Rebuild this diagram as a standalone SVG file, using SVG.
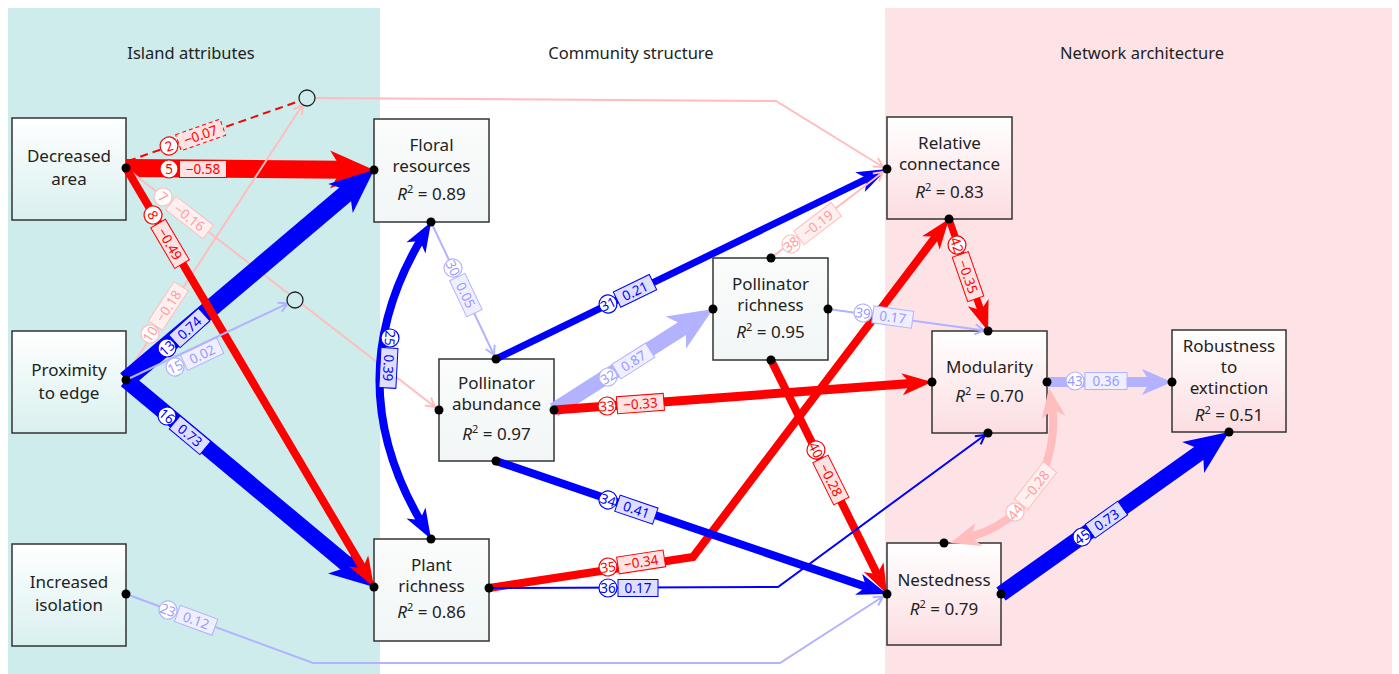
<svg xmlns="http://www.w3.org/2000/svg" width="1399" height="674" viewBox="0 0 1399 674">
<style>
text{font-family:"Noto Sans","DejaVu Sans",sans-serif}
.head{font-size:16.5px;fill:#222;text-anchor:middle}
.node text{font-size:17px;fill:#222;text-anchor:middle}
.node .sup{font-size:11px}
.box{stroke:#333;stroke-width:1.5}
.teal{fill:url(#gTeal)}
.grey{fill:url(#gGrey)}
.pink{fill:url(#gPink)}
.dot{fill:#000}
.latent{fill:#cdeceb;stroke:#222;stroke-width:1.3}
.con{fill:none;stroke-linejoin:miter}
.red{stroke:#ff0000}
.blue{stroke:#0000ff}
.fred{stroke:#ffbdbd}
.fblue{stroke:#b2b2ff}
.lab text{font-size:13.5px;text-anchor:middle;dominant-baseline:central}
.lab rect{stroke-width:1}
.lab circle{fill:#fff;stroke-width:1.2}
.lr circle,.lr rect{stroke:#ff0000}.lr rect{fill:#ffe3e3}.lr text{fill:#ff0000}
.lb circle,.lb rect{stroke:#0000ff}.lb rect{fill:#dedeff}.lb text{fill:#0000ff}
.lfr circle,.lfr rect{stroke:#ffbdbd}.lfr rect{fill:#fff0f0}.lfr text{fill:#ff9c9c}
.lfb circle,.lfb rect{stroke:#b2b2ff}.lfb rect{fill:#efefff}.lfb text{fill:#9a9aff}
</style>
<defs>
<linearGradient id="gTeal" x1="0" y1="0" x2="0" y2="1"><stop offset="0" stop-color="#ffffff"/><stop offset="1" stop-color="#d9f0ef"/></linearGradient>
<linearGradient id="gGrey" x1="0" y1="0" x2="0" y2="1"><stop offset="0" stop-color="#fbfcfc"/><stop offset="1" stop-color="#f2f6f6"/></linearGradient>
<linearGradient id="gPink" x1="0" y1="0" x2="0" y2="1"><stop offset="0" stop-color="#ffffff"/><stop offset="1" stop-color="#fcdde1"/></linearGradient>
<marker id="Lred" markerUnits="userSpaceOnUse" orient="auto-start-reverse" overflow="visible" markerWidth="1" markerHeight="1" refX="0" refY="0"><path d="M-12,-19 L32,0 L-12,19 L0,0 Z" fill="#ff0000"/></marker>
<marker id="Lblue" markerUnits="userSpaceOnUse" orient="auto-start-reverse" overflow="visible" markerWidth="1" markerHeight="1" refX="0" refY="0"><path d="M-12,-19 L32,0 L-12,19 L0,0 Z" fill="#0000ff"/></marker>
<marker id="Lfblue" markerUnits="userSpaceOnUse" orient="auto-start-reverse" overflow="visible" markerWidth="1" markerHeight="1" refX="0" refY="0"><path d="M-12,-19 L32,0 L-12,19 L0,0 Z" fill="#b2b2ff"/></marker>
<marker id="Mred" markerUnits="userSpaceOnUse" orient="auto-start-reverse" overflow="visible" markerWidth="1" markerHeight="1" refX="0" refY="0"><path d="M-8,-11 L22,0 L-8,11 L0,0 Z" fill="#ff0000"/></marker>
<marker id="Mblue" markerUnits="userSpaceOnUse" orient="auto-start-reverse" overflow="visible" markerWidth="1" markerHeight="1" refX="0" refY="0"><path d="M-8,-11 L22,0 L-8,11 L0,0 Z" fill="#0000ff"/></marker>
<marker id="Mfblue" markerUnits="userSpaceOnUse" orient="auto-start-reverse" overflow="visible" markerWidth="1" markerHeight="1" refX="0" refY="0"><path d="M-8,-13 L22,0 L-8,13 L0,0 Z" fill="#b2b2ff"/></marker>
<marker id="Mfred" markerUnits="userSpaceOnUse" orient="auto-start-reverse" overflow="visible" markerWidth="1" markerHeight="1" refX="0" refY="0"><path d="M-8,-12 L22,0 L-8,12 L0,0 Z" fill="#ffbdbd"/></marker>
<marker id="Ofred" markerUnits="userSpaceOnUse" orient="auto" overflow="visible" markerWidth="1" markerHeight="1" refX="0" refY="0"><path d="M-9,-5 L0,0 L-9,5" fill="none" stroke="#ffbdbd" stroke-width="2"/></marker>
<marker id="Ofblue" markerUnits="userSpaceOnUse" orient="auto" overflow="visible" markerWidth="1" markerHeight="1" refX="0" refY="0"><path d="M-9,-5 L0,0 L-9,5" fill="none" stroke="#b2b2ff" stroke-width="2"/></marker>
<marker id="Oblue" markerUnits="userSpaceOnUse" orient="auto" overflow="visible" markerWidth="1" markerHeight="1" refX="0" refY="0"><path d="M-9,-5 L0,0 L-9,5" fill="none" stroke="#0000ff" stroke-width="2"/></marker>
</defs>

<rect width="1399" height="674" fill="#ffffff"/>
<rect x="8" y="8" width="372" height="666" fill="#cdeceb"/>
<rect x="885" y="8" width="507" height="666" fill="#fde3e6"/>

<text class="head" x="191" y="59">Island attributes</text>
<text class="head" x="631" y="59">Community structure</text>
<text class="head" x="1142" y="59">Network architecture</text>

<g id="node-decreased-area" class="node">
<rect class="box teal" x="12" y="118" width="114" height="102"/>
<text x="69" y="162">Decreased</text><text x="69" y="185">area</text>
</g>
<g id="node-proximity-to-edge" class="node">
<rect class="box teal" x="12" y="331" width="114" height="102"/>
<text x="69" y="376">Proximity</text><text x="69" y="399">to edge</text>
</g>
<g id="node-increased-isolation" class="node">
<rect class="box teal" x="12" y="544" width="114" height="102"/>
<text x="69" y="588">Increased</text><text x="69" y="611">isolation</text>
</g>
<g id="node-floral-resources" class="node">
<rect class="box grey" x="374" y="119" width="115" height="103"/>
<text x="431.5" y="151">Floral</text><text x="431.5" y="172">resources</text>
<text x="431.5" y="200"><tspan font-style="italic">R</tspan><tspan class="sup" dy="-7">2</tspan><tspan dy="7"> = 0.89</tspan></text>
</g>
<g id="node-plant-richness" class="node">
<rect class="box grey" x="374" y="539" width="115" height="102"/>
<text x="431.5" y="571">Plant</text><text x="431.5" y="592">richness</text>
<text x="431.5" y="618"><tspan font-style="italic">R</tspan><tspan class="sup" dy="-7">2</tspan><tspan dy="7"> = 0.86</tspan></text>
</g>
<g id="node-pollinator-abundance" class="node">
<rect class="box grey" x="439" y="359" width="115" height="102"/>
<text x="496.5" y="389">Pollinator</text><text x="496.5" y="410">abundance</text>
<text x="496.5" y="440"><tspan font-style="italic">R</tspan><tspan class="sup" dy="-7">2</tspan><tspan dy="7"> = 0.97</tspan></text>
</g>
<g id="node-pollinator-richness" class="node">
<rect class="box grey" x="713" y="258" width="115" height="102"/>
<text x="770.5" y="290">Pollinator</text><text x="770.5" y="311">richness</text>
<text x="770.5" y="338"><tspan font-style="italic">R</tspan><tspan class="sup" dy="-7">2</tspan><tspan dy="7"> = 0.95</tspan></text>
</g>
<g id="node-relative-connectance" class="node">
<rect class="box pink" x="887" y="117" width="125" height="102"/>
<text x="949.5" y="149">Relative</text><text x="949.5" y="170">connectance</text>
<text x="949.5" y="198"><tspan font-style="italic">R</tspan><tspan class="sup" dy="-7">2</tspan><tspan dy="7"> = 0.83</tspan></text>
</g>
<g id="node-modularity" class="node">
<rect class="box pink" x="932" y="331" width="115" height="102"/>
<text x="989.5" y="373">Modularity</text>
<text x="989.5" y="402"><tspan font-style="italic">R</tspan><tspan class="sup" dy="-7">2</tspan><tspan dy="7"> = 0.70</tspan></text>
</g>
<g id="node-robustness" class="node">
<rect class="box pink" x="1172" y="330" width="114" height="102"/>
<text x="1229" y="352">Robustness</text><text x="1229" y="373">to</text><text x="1229" y="394">extinction</text>
<text x="1229" y="421"><tspan font-style="italic">R</tspan><tspan class="sup" dy="-7">2</tspan><tspan dy="7"> = 0.51</tspan></text>
</g>
<g id="node-nestedness" class="node">
<rect class="box pink" x="887" y="543" width="114" height="102"/>
<text x="944" y="586">Nestedness</text>
<text x="944" y="615"><tspan font-style="italic">R</tspan><tspan class="sup" dy="-7">2</tspan><tspan dy="7"> = 0.79</tspan></text>
</g>

<g id="connectors">
<path id="c2" class="con red" d="M128,161 L299.5,101" stroke-width="2" stroke-dasharray="8 5"/>
<path id="c5" class="con red" d="M126,168 L342,169.7" stroke-width="18" marker-end="url(#Lred)"/>
<path id="c7" class="con fred" d="M126,168 L435,407" stroke-width="2" marker-end="url(#Ofred)"/>
<path id="c10" class="con fred" d="M128,372 L302.7,104.7" stroke-width="2" marker-end="url(#Ofred)"/>
<path id="c13" class="con blue" d="M126,380 L349.6,190.7" stroke-width="18" marker-end="url(#Lblue)"/>
<path id="c16" class="con blue" d="M126,380 L349.4,566.5" stroke-width="16" marker-end="url(#Lblue)"/>
<path id="c8" class="con red" d="M126,168 L362.8,568.1" stroke-width="8" marker-end="url(#Mred)"/>
<path id="c15" class="con fblue" d="M126,380 L287.8,303.4" stroke-width="2" marker-end="url(#Ofblue)"/>
<path id="c23" class="con fblue" d="M126,594 L313,663 L780,663 L883,596.5" stroke-width="2" marker-end="url(#Ofblue)"/>
<path id="c25" class="con blue" d="M420,241 Q339,380 420,520" stroke-width="8" marker-start="url(#Mblue)" marker-end="url(#Mblue)"/>
<path id="c30" class="con fblue" d="M431,222 L494,355" stroke-width="2" marker-end="url(#Ofblue)"/>
<path id="c31" class="con blue" d="M496,359 L867.2,178.6" stroke-width="7" marker-end="url(#Mblue)"/>
<path id="c32" class="con fblue" d="M554,410 L686,326.2" stroke-width="15" marker-end="url(#Lfblue)"/>
<path id="c33" class="con red" d="M554,410 L910.1,383.6" stroke-width="9" marker-end="url(#Mred)"/>
<path id="c35" class="con red" d="M489,588 L693,557 L935.7,236.5" stroke-width="8" marker-end="url(#Mred)"/>
<path id="c34" class="con blue" d="M496,461 L866.2,586.9" stroke-width="8" marker-end="url(#Mblue)"/>
<path id="c38" class="con fred" d="M771,258 L883,172" stroke-width="2" marker-end="url(#Ofred)"/>
<path id="c39" class="con fblue" d="M828,309 L984,330.5" stroke-width="2" marker-end="url(#Ofblue)"/>
<path id="c40" class="con red" d="M771,360 L877.2,574.3" stroke-width="8" marker-end="url(#Mred)"/>
<path id="c36" class="con blue" d="M489,588 L778,587 L985,435" stroke-width="2" marker-end="url(#Oblue)"/>
<path id="c42" class="con red" d="M949,219 L980.8,310.2" stroke-width="7" marker-end="url(#Mred)"/>
<path id="c43" class="con fblue" d="M1047,382 L1150,382" stroke-width="10" marker-end="url(#Mfblue)"/>
<path id="c44" class="con fred" d="M1052.4,409.6 C1057,440 1045,515 971.3,536.7" stroke-width="8" marker-start="url(#Mfred)" marker-end="url(#Mfred)"/>
<path id="c45" class="con blue" d="M1001,594 L1202.9,450.5" stroke-width="16" marker-end="url(#Lblue)"/>
<path id="c-latent" class="con fred" d="M315,98 L776,101 L883,167" stroke-width="2" marker-end="url(#Ofred)"/>
</g>

<g id="latent-nodes">
<circle id="latent-1" class="latent" cx="307" cy="98" r="8"/>
<circle id="latent-2" class="latent" cx="295" cy="300" r="8"/>
</g>

<g id="labels">
<g class="lab lr" transform="translate(169,146) rotate(-19.3)"><circle r="9"/><text>2</text><rect x="10" y="-8.5" width="47" height="17" stroke-dasharray="4 3"/><text x="33.5">−0.07</text></g>
<g class="lab lr" transform="translate(169,169)"><circle r="9"/><text>5</text><rect x="10.5" y="-8.5" width="47" height="17"/><text x="34">−0.58</text></g>
<g class="lab lfr" transform="translate(163,197) rotate(37.7)"><circle r="9"/><text>7</text><rect x="10" y="-8.5" width="47" height="17"/><text x="33.5">−0.16</text></g>
<g class="lab lr" transform="translate(153,215) rotate(59.4)"><circle r="9"/><text>8</text><rect x="10" y="-8.5" width="47" height="17"/><text x="33.5">−0.49</text></g>
<g class="lab lfr" transform="translate(150,334) rotate(-56.8)"><circle r="9"/><text>10</text><rect x="10" y="-8.5" width="47" height="17"/><text x="33.5">−0.18</text></g>
<g class="lab lb" transform="translate(167,348) rotate(-42)"><circle r="9"/><text>13</text><rect x="10" y="-8.5" width="40" height="17"/><text x="30">0.74</text></g>
<g class="lab lfb" transform="translate(175,367) rotate(-25.3)"><circle r="9"/><text>15</text><rect x="10" y="-8.5" width="40" height="17"/><text x="30">0.02</text></g>
<g class="lab lb" transform="translate(167,416) rotate(39.9)"><circle r="9"/><text>16</text><rect x="10" y="-8.5" width="40" height="17"/><text x="30">0.73</text></g>
<g class="lab lfb" transform="translate(168,610) rotate(20.2)"><circle r="9"/><text>23</text><rect x="10" y="-8.5" width="40" height="17"/><text x="30">0.12</text></g>
<g class="lab lb" transform="translate(390,338) rotate(93)"><circle r="9"/><text>25</text><rect x="10" y="-8.5" width="40" height="17"/><text x="30">0.39</text></g>
<g class="lab lfb" transform="translate(453,268) rotate(64.6)"><circle r="9"/><text>30</text><rect x="10" y="-8.5" width="40" height="17"/><text x="30">0.05</text></g>
<g class="lab lb" transform="translate(608,304) rotate(-25.9)"><circle r="9"/><text>31</text><rect x="10" y="-8.5" width="40" height="17"/><text x="30">0.21</text></g>
<g class="lab lfb" transform="translate(608,377) rotate(-32.4)"><circle r="9"/><text>32</text><rect x="10" y="-8.5" width="40" height="17"/><text x="30">0.87</text></g>
<g class="lab lr" transform="translate(607,406) rotate(-4.2)"><circle r="9"/><text>33</text><rect x="10" y="-8.5" width="47" height="17"/><text x="33.5">−0.33</text></g>
<g class="lab lb" transform="translate(608,500) rotate(18.8)"><circle r="9"/><text>34</text><rect x="10" y="-8.5" width="40" height="17"/><text x="30">0.41</text></g>
<g class="lab lr" transform="translate(608,567) rotate(-8.7)"><circle r="9"/><text>35</text><rect x="10" y="-8.5" width="47" height="17"/><text x="33.5">−0.34</text></g>
<g class="lab lb" transform="translate(608,588)"><circle r="9"/><text>36</text><rect x="10" y="-8.5" width="40" height="17"/><text x="30">0.17</text></g>
<g class="lab lfr" transform="translate(791,244) rotate(-37.5)"><circle r="9"/><text>38</text><rect x="10" y="-8.5" width="47" height="17"/><text x="33.5">−0.19</text></g>
<g class="lab lfb" transform="translate(863,313) rotate(7.8)"><circle r="9"/><text>39</text><rect x="10" y="-8.5" width="40" height="17"/><text x="30">0.17</text></g>
<g class="lab lr" transform="translate(816,450) rotate(63.6)"><circle r="9"/><text>40</text><rect x="10" y="-8.5" width="47" height="17"/><text x="33.5">−0.28</text></g>
<g class="lab lr" transform="translate(957,245) rotate(70.8)"><circle r="9"/><text>42</text><rect x="10" y="-8.5" width="47" height="17"/><text x="33.5">−0.35</text></g>
<g class="lab lfb" transform="translate(1075,381)"><circle r="9"/><text>43</text><rect x="10" y="-8.5" width="42" height="17"/><text x="31">0.36</text></g>
<g class="lab lfr" transform="translate(1015,512) rotate(-52)"><circle r="9"/><text>44</text><rect x="10" y="-8.5" width="47" height="17"/><text x="33.5">−0.28</text></g>
<g class="lab lb" transform="translate(1082,537) rotate(-35.4)"><circle r="9"/><text>45</text><rect x="10" y="-8.5" width="40" height="17"/><text x="30">0.73</text></g>
</g>

<g id="ports">
<circle class="dot" cx="126" cy="168" r="4.5"/>
<circle class="dot" cx="126" cy="380" r="4.5"/>
<circle class="dot" cx="126" cy="594" r="4.5"/>
<circle class="dot" cx="374" cy="170" r="4.5"/><circle class="dot" cx="431" cy="222" r="4.5"/>
<circle class="dot" cx="374" cy="587" r="4.5"/><circle class="dot" cx="431" cy="539" r="4.5"/><circle class="dot" cx="489" cy="588" r="4.5"/>
<circle class="dot" cx="496" cy="359" r="4.5"/><circle class="dot" cx="439" cy="410" r="4.5"/><circle class="dot" cx="554" cy="410" r="4.5"/><circle class="dot" cx="496" cy="461" r="4.5"/>
<circle class="dot" cx="771" cy="258" r="4.5"/><circle class="dot" cx="713" cy="309" r="4.5"/><circle class="dot" cx="828" cy="309" r="4.5"/><circle class="dot" cx="771" cy="360" r="4.5"/>
<circle class="dot" cx="887" cy="169" r="4.5"/><circle class="dot" cx="949" cy="219" r="4.5"/>
<circle class="dot" cx="988" cy="331" r="4.5"/><circle class="dot" cx="932" cy="382" r="4.5"/><circle class="dot" cx="1047" cy="382" r="4.5"/><circle class="dot" cx="988" cy="433" r="4.5"/>
<circle class="dot" cx="1172" cy="382" r="4.5"/><circle class="dot" cx="1229" cy="432" r="4.5"/>
<circle class="dot" cx="944" cy="543" r="4.5"/><circle class="dot" cx="887" cy="594" r="4.5"/><circle class="dot" cx="1001" cy="594" r="4.5"/>
</g>
</svg>
